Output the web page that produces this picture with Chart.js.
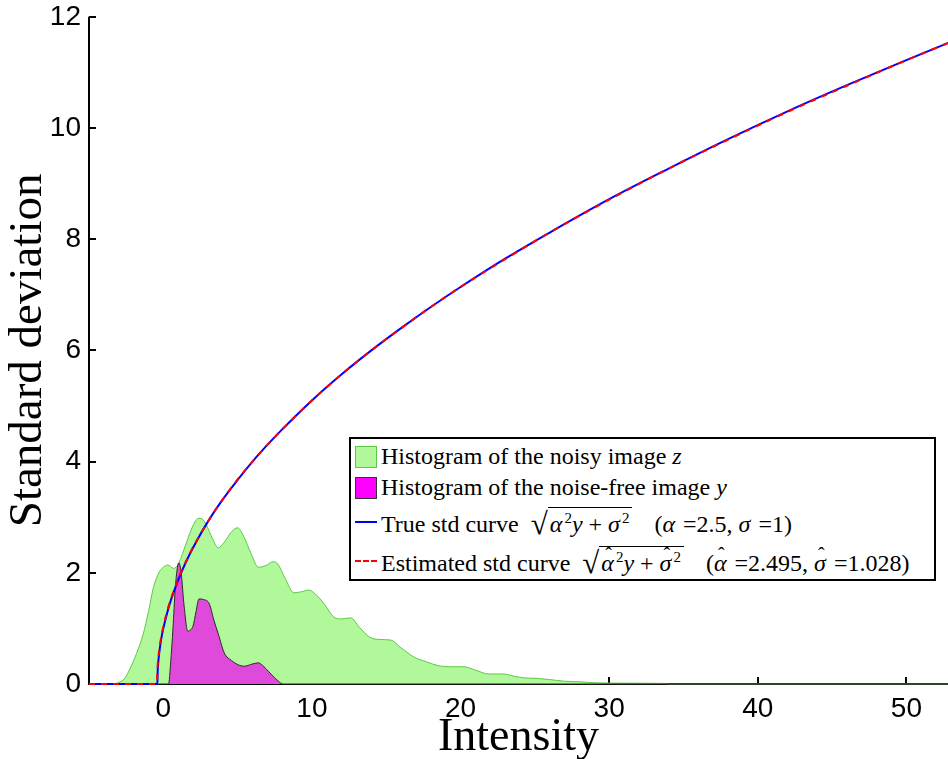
<!DOCTYPE html>
<html>
<head>
<meta charset="utf-8">
<title>Standard deviation curve</title>
<script src="https://cdn.jsdelivr.net/npm/chart.js@4.4.1/dist/chart.umd.min.js"></script>
<style>
  body { margin: 0; background: #fff; }
  #wrap { position: relative; width: 948px; height: 759px; overflow: hidden; }
  #legendContainer {
    position: absolute; left: 349px; top: 437px; width: 583px; height: 140px;
    border: 2px solid #000; background: #fff;
    font-family: "Liberation Serif", "Times New Roman", serif; font-size: 24px; color: #000;
  }
  .legend-item { position: absolute; left: 4px; white-space: nowrap; display: flex; align-items: center; }
  .legend-box { width: 22px; height: 22px; box-sizing: border-box; border: 1px solid; margin-right: 4px; }
  .legend-line { width: 22px; height: 0; border-top: 2px solid; margin-right: 4px; }
  .m { font-style: italic; }
  .rad { font-size: 31px; margin-left: 12px; position: relative; top: 2px; }
  .ov { border-top: 1px solid #000; padding: 3px 3px 0 2px; }
  .sup { font-size: 15px; position: relative; top: -9px; margin-left: 2px; }
  .hat { position: relative; }
  .hat::after { content: "\02C6"; position: absolute; left: 4px; top: -6px; font-style: normal; font-size: 20px; }
  .par { margin-left: 22px; }
  .eq { margin-left: 8px; }
</style>
</head>
<body>
<div id="wrap">
  <canvas id="stdChart" width="948" height="759"></canvas>
  <div id="legendContainer"></div>
</div>
<script>
  // axis ticks
  var xTicks = [0, 10, 20, 30, 40, 50];
  var yTicks = [0, 2, 4, 6, 8, 10, 12];

  // histogram of the noisy image z (scaled to the std axis)
  var noisyX = [-5, -3.4, -3.0, -2.6, -2.2, -1.8, -1.35, -1.0, -0.67, -0.3, 0, 0.3, 0.7, 1.0, 1.3, 1.7, 2.0, 2.35, 2.6,
                2.9, 3.3, 3.7, 4.1, 4.6, 5.0, 5.4, 5.9, 6.4, 6.9, 7.4, 7.7, 8.2, 8.8, 9.3, 9.8, 10.3, 10.8, 11.5, 12.0,
                12.6, 13.2, 13.9, 14.6, 15.3, 16.0, 16.9, 17.7, 18.5, 19.4, 20.2, 21.0, 21.9, 22.9, 23.6, 24.3, 25.2,
                26.0, 27.0, 28.0, 29.2, 31.0, 33.7, 34.0, 52.8];
  var noisyY = [0, 0, 0.03, 0.1, 0.3, 0.55, 0.9, 1.3, 1.73, 2.0, 2.1, 2.14, 2.08, 2.15, 2.35, 2.65, 2.85, 2.98, 2.97,
                2.86, 2.62, 2.45, 2.55, 2.74, 2.81, 2.66, 2.35, 2.1, 2.13, 2.2, 2.16, 1.9, 1.64, 1.66, 1.69, 1.6, 1.45, 1.2, 1.17,
                1.19, 1.02, 0.84, 0.8, 0.79, 0.65, 0.48, 0.4, 0.33, 0.31, 0.31, 0.25, 0.18, 0.18, 0.14, 0.11, 0.1,
                0.08, 0.05, 0.04, 0.02, 0.015, 0.01, 0, 0];

  // histogram of the noise-free image y
  var cleanX = [-5, 0.35, 0.5, 0.65, 0.8, 0.95, 1.05, 1.2, 1.4, 1.65, 1.85, 2.0, 2.2, 2.4, 2.7, 3.1, 3.4, 3.7, 4.1,
                4.6, 5.0, 5.45, 6.0, 6.4, 6.7, 7.1, 7.5, 8.1, 52.8];
  var cleanY = [0, 0, 0.4, 1.0, 1.7, 2.1, 2.18, 2.0, 1.4, 0.95, 0.98, 1.04, 1.3, 1.53, 1.52, 1.44, 1.15, 0.9, 0.56,
                0.42, 0.35, 0.32, 0.36, 0.38, 0.33, 0.22, 0.11, 0, 0];

  // std curves
  var curveX = [-5, -0.42, -0.4, -0.38, -0.35, -0.3, -0.2, -0.1, 0, 0.25, 0.5, 1, 1.5, 2, 3, 4, 5, 6, 7, 8, 10, 12,
                14, 16, 18, 20, 23, 26, 30, 34, 38, 42, 46, 50, 53];
  var trueStd = [0, 0, 0, 0.22, 0.35, 0.5, 0.71, 0.87, 1.0, 1.27, 1.5, 1.87, 2.18, 2.45, 2.92, 3.32, 3.67, 4.0, 4.3, 4.58, 5.1, 5.57,
                 6.0, 6.4, 6.78, 7.14, 7.65, 8.12, 8.72, 9.27, 9.8, 10.3, 10.77, 11.22, 11.55];
  var estStd = [0, 0, 0.24, 0.33, 0.43, 0.56, 0.75, 0.9, 1.03, 1.3, 1.52, 1.88, 2.19, 2.46, 2.92, 3.32, 3.68, 4.0, 4.3, 4.58, 5.1, 5.57,
                6.0, 6.4, 6.78, 7.14, 7.64, 8.12, 8.71, 9.27, 9.79, 10.29, 10.76, 11.22, 11.55];

  function pairs(xs, ys) {
    return xs.map(function (x, i) { return { x: x, y: ys[i] }; });
  }

  // axis lines and inward tick marks
  var axesPlugin = {
    id: 'axes',
    beforeDatasetsDraw: function (chart) {
      var ctx = chart.ctx, area = chart.chartArea;
      var xs = chart.scales.x, ys = chart.scales.y;
      ctx.save();
      ctx.strokeStyle = '#000';
      ctx.lineWidth = 2;
      ctx.beginPath();
      ctx.moveTo(area.left, area.top);
      ctx.lineTo(area.left, area.bottom);
      ctx.lineTo(area.right, area.bottom);
      xTicks.forEach(function (v) {
        var px = Math.round(xs.getPixelForValue(v));
        ctx.moveTo(px, area.bottom);
        ctx.lineTo(px, area.bottom - 7);
      });
      yTicks.forEach(function (v) {
        var py = Math.round(ys.getPixelForValue(v));
        ctx.moveTo(area.left, py);
        ctx.lineTo(area.left + 7, py);
      });
      ctx.stroke();
      ctx.restore();
    }
  };

  var ctx = document.getElementById('stdChart').getContext('2d');
  var stdChart = new Chart(ctx, {
    type: 'line',
    data: {
      datasets: [{
        label: 'Histogram of the noisy image z',
        data: pairs(noisyX, noisyY),
        backgroundColor: '#b0f89a',
        borderColor: '#5cc845',
        borderWidth: 1,
        fill: 'origin',
        order: 4
      }, {
        label: 'Histogram of the noise-free image y',
        data: pairs(cleanX, cleanY),
        backgroundColor: '#e04ada',
        borderColor: '#2a2a2a',
        borderWidth: 1,
        fill: 'origin',
        order: 3
      }, {
        label: 'True std curve',
        data: pairs(curveX, trueStd),
        borderColor: '#0000ff',
        borderWidth: 2,
        fill: false,
        order: 2
      }, {
        label: 'Estimated std curve',
        data: pairs(curveX, estStd),
        borderColor: '#ff0000',
        borderWidth: 2,
        borderDash: [6, 6],
        fill: false,
        order: 1
      }]
    },
    options: {
      responsive: false,
      animation: false,
      clip: false,
      elements: {
        point: { radius: 0 },
        line: { cubicInterpolationMode: 'monotone' }
      },
      layout: { padding: { top: 11, right: 0, left: 0, bottom: 0 } },
      plugins: {
        legend: { display: false },
        tooltip: { enabled: false }
      },
      scales: {
        x: {
          type: 'linear',
          min: -5,
          max: 52.8,
          grid: { display: false },
          border: { display: false },
          afterBuildTicks: function (scale) {
            scale.ticks = xTicks.map(function (v) { return { value: v }; });
          },
          afterFit: function (scale) { scale.height = 75; },
          ticks: {
            padding: 0,
            maxRotation: 0,
            color: '#000',
            font: { family: 'Liberation Sans', size: 28 }
          },
          title: {
            display: true,
            text: 'Intensity',
            color: '#000',
            padding: 0,
            font: { family: 'Liberation Serif', size: 46, lineHeight: 0.9 }
          }
        },
        y: {
          min: 0,
          max: 12,
          grid: { display: false },
          border: { display: false },
          afterBuildTicks: function (scale) {
            scale.ticks = yTicks.map(function (v) { return { value: v }; });
          },
          afterFit: function (scale) { scale.width = 89; },
          ticks: {
            padding: 0,
            color: '#000',
            font: { family: 'Liberation Sans', size: 28 }
          },
          title: {
            display: true,
            text: 'Standard deviation',
            color: '#000',
            padding: 0,
            font: { family: 'Liberation Serif', size: 47, lineHeight: 1.2 }
          }
        }
      }
    },
    plugins: [axesPlugin]
  });

  // Legend, built by hand because of the math
  var sqrtTrue = '<span class="rad">√</span><span class="ov"><span class="m">α</span><span class="sup">2</span>' +
                 '<span class="m">y</span> + <span class="m">σ</span><span class="sup">2</span></span>';
  var sqrtEst = '<span class="rad">√</span><span class="ov"><span class="m hat">α</span><span class="sup">2</span>' +
                '<span class="m">y</span> + <span class="m hat">σ</span><span class="sup">2</span></span>';
  var legendItems = [
    { kind: 'box', fill: '#b0f89a', edge: '#5cc845', top: 4,
      html: 'Histogram of the noisy image <span class="m">z</span>' },
    { kind: 'box', fill: '#ff00ff', edge: '#333', top: 35,
      html: 'Histogram of the noise-free image <span class="m">y</span>' },
    { kind: 'line', color: '#0000ff', dash: 'solid', top: 65,
      html: 'True std curve' + sqrtTrue +
            '<span class="par">(<span class="m">α</span><span class="eq">=</span>2.5, <span class="m">σ</span><span class="eq">=</span>1)</span>' },
    { kind: 'line', color: '#ff0000', dash: 'dashed', top: 104,
      html: 'Estimated std curve' + sqrtEst +
            '<span class="par">(<span class="m hat">α</span><span class="eq">=</span>2.495, <span class="m hat">σ</span><span class="eq">=</span>1.028)</span>' }
  ];

  var legendContainer = document.getElementById('legendContainer');
  legendItems.forEach(function (item) {
    var legendItem = document.createElement('div');
    legendItem.classList.add('legend-item');
    legendItem.style.top = item.top + 'px';
    var key = document.createElement('div');
    if (item.kind === 'box') {
      key.classList.add('legend-box');
      key.style.backgroundColor = item.fill;
      key.style.borderColor = item.edge;
    } else {
      key.classList.add('legend-line');
      key.style.borderTopColor = item.color;
      key.style.borderTopStyle = item.dash;
    }
    legendItem.appendChild(key);
    var label = document.createElement('span');
    label.innerHTML = item.html;
    legendItem.appendChild(label);
    legendContainer.appendChild(legendItem);
  });
</script>
</body>
</html>
